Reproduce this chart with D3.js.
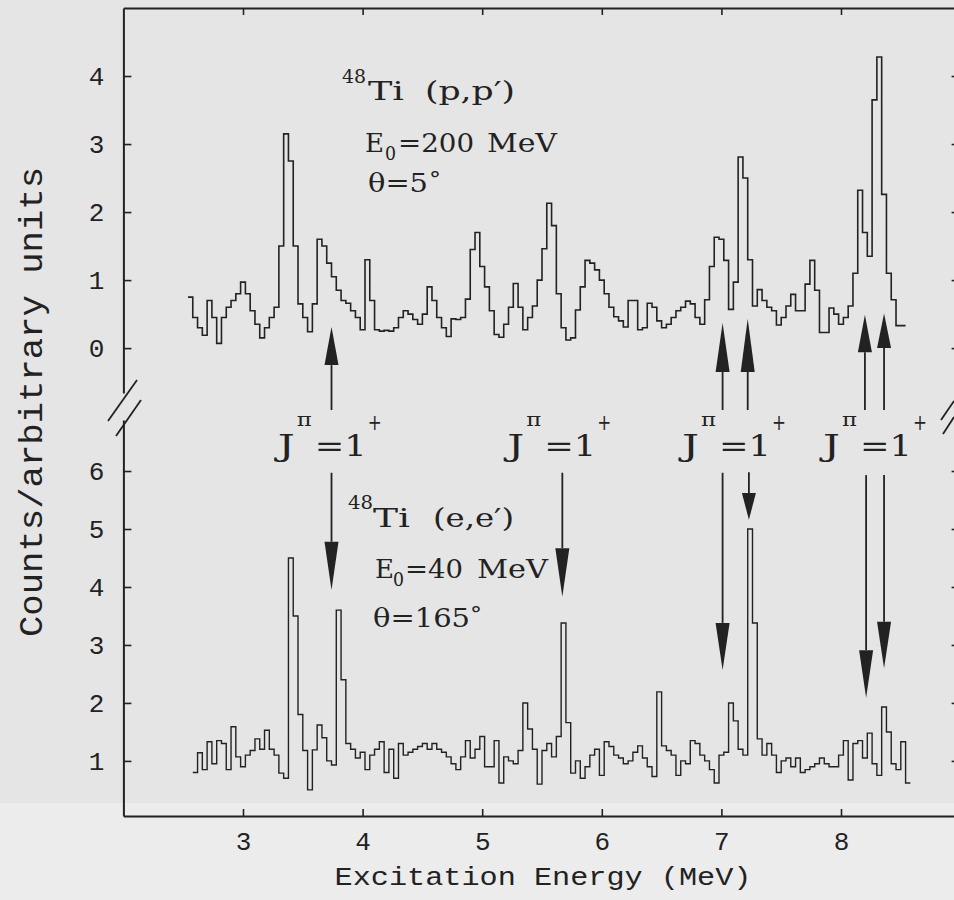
<!DOCTYPE html>
<html lang="en">
<head>
<meta charset="UTF-8">
<title>48Ti (p,p') and (e,e') spectra</title>
<script src="https://d3js.org/d3.v7.min.js"></script>
<style>
  body { margin: 0; background: #ececec; }
  svg text { fill: #222; }
</style>
</head>
<body>
<div id="chart"></div>
<script>
// channel width (MeV) used for both spectra
const binWidth = 0.04;

// 48Ti (p,p') E0=200 MeV, theta=5 deg  -- first channel starts at 2.54 MeV
const ppStart = 2.54;
const ppCounts = [
  0.75, 0.45, 0.3, 0.19, 0.7, 0.45, 0.07, 0.45, 0.6, 0.7,
  0.8, 0.97, 0.8, 0.55, 0.35, 0.15, 0.3, 0.45, 0.6, 1.5,
  3.15, 2.75, 1.5, 0.65, 0.45, 0.24, 0.65, 1.6, 1.5, 1.25,
  1.05, 0.85, 0.7, 0.66, 0.55, 0.45, 0.27, 1.3, 0.7, 0.27,
  0.25, 0.26, 0.25, 0.3, 0.45, 0.55, 0.5, 0.42, 0.35, 0.5,
  0.9, 0.7, 0.45, 0.3, 0.17, 0.43, 0.42, 0.45, 0.72, 1.45,
  1.7, 1.2, 0.9, 0.55, 0.2, 0.16, 0.35, 0.6, 0.95, 0.6,
  0.27, 0.45, 0.62, 1.0, 1.46, 2.13, 1.8, 0.8, 0.3, 0.12,
  0.15, 0.56, 0.9, 1.29, 1.25, 1.15, 1.0, 0.8, 0.6, 0.46,
  0.4, 0.31, 0.7, 0.7, 0.27, 0.3, 0.66, 0.6, 0.4, 0.3,
  0.35, 0.45, 0.55, 0.6, 0.69, 0.65, 0.45, 0.35, 0.71, 1.2,
  1.63, 1.6, 1.29, 0.57, 0.97, 2.81, 2.5, 1.3, 0.62, 0.86,
  0.7, 0.6, 0.55, 0.34, 0.45, 0.62, 0.79, 0.55, 0.55, 0.94,
  1.29, 0.85, 0.23, 0.23, 0.59, 0.5, 0.35, 0.45, 0.62, 1.1,
  2.32, 1.7, 1.35, 3.65, 4.28, 2.26, 1.1, 0.71, 0.33, 0.33
];

// 48Ti (e,e') E0=40 MeV, theta=165 deg  -- first channel starts at 2.58 MeV
const eeStart = 2.58;
const eeCounts = [
  0.8, 1.14, 0.85, 1.33, 0.95, 1.35, 1.3, 0.85, 1.59, 1.07,
  0.9, 1.1, 1.18, 1.38, 1.2, 1.53, 1.2, 1.1, 0.79, 0.7,
  4.5, 3.5, 1.8, 1.18, 0.5, 1.19, 1.62, 1.4, 1.0, 0.93,
  3.6, 2.4, 1.3, 1.2, 1.05, 1.15, 0.85, 1.1, 1.2, 1.33,
  0.8, 1.2, 0.7, 1.3, 1.1, 1.15, 1.2, 1.25, 1.3, 1.2,
  1.3, 1.2, 1.15, 1.07, 0.95, 0.85, 1.07, 1.35, 1.05, 1.2,
  1.42, 0.9, 0.9, 1.35, 0.62, 1.07, 1.0, 0.95, 1.18, 2.0,
  1.55, 1.2, 0.6, 1.18, 1.3, 1.07, 1.42, 3.38, 1.66, 0.79,
  1.0, 0.7, 0.9, 1.1, 1.2, 0.75, 1.33, 1.25, 1.1, 1.05,
  0.95, 1.0, 1.15, 1.26, 1.05, 0.9, 0.73, 2.19, 1.26, 1.18,
  1.1, 0.75, 1.0, 0.95, 1.35, 1.3, 1.1, 1.0, 0.85, 0.62,
  1.1, 1.15, 2.0, 1.69, 1.2, 1.1, 5.0, 3.38, 1.38, 1.1,
  1.3, 1.1, 0.8, 1.0, 1.05, 0.9, 1.05, 0.8, 0.85, 0.9,
  0.95, 1.05, 0.95, 0.9, 0.9, 1.1, 1.35, 0.67, 1.3, 1.35,
  1.05, 1.48, 0.95, 0.75, 1.93, 1.5, 0.95, 0.85, 1.33, 0.62
];

const xTicks = [3, 4, 5, 6, 7, 8];
const ppTicks = [0, 1, 2, 3, 4];
const eeTicks = [1, 2, 3, 4, 5, 6];

// J=1+ arrows: energy, tip, head base and tail in the units of each panel
const ppArrows = [
  { e: 3.74, tip: 0.31, base: -0.25, tail: -0.91 },
  { e: 7.01, tip: 0.37, base: -0.35, tail: -0.91 },
  { e: 7.22, tip: 0.43, base: -0.35, tail: -0.91 },
  { e: 8.20, tip: 0.49, base: -0.06, tail: -0.91 },
  { e: 8.36, tip: 0.51, base: 0.0, tail: -0.91 }
];
const eeArrows = [
  { e: 3.74, tip: 3.95, base: 4.78, tail: 5.97 },
  { e: 5.67, tip: 3.83, base: 4.67, tail: 5.97 },
  { e: 7.01, tip: 2.57, base: 3.38, tail: 5.97 },
  { e: 7.23, tip: 5.16, base: 5.62, tail: 5.98 },
  { e: 8.21, tip: 2.09, base: 2.91, tail: 5.93 },
  { e: 8.36, tip: 2.60, base: 3.40, tail: 5.93 }
];
// label energies for the J^pi = 1+ texts (left edge of each label)
const jLabelE = [3.29, 5.21, 6.67, 7.85];

const width = 954, height = 900;
const ink = "#222";

const svg = d3.select("#chart").append("svg")
  .attr("width", width).attr("height", height);

// scanned-paper background
svg.append("rect").attr("width", width).attr("height", height).attr("fill", "#ececec");
svg.append("rect").attr("width", width).attr("height", 803).attr("fill", "#e5e5e5");

// scales
const x = d3.scaleLinear().domain([2, 9]).range([123.4, 960.6]);
const yTop = d3.scaleLinear().domain([-0.66, 5]).range([393, 8]);
const yBot = d3.scaleLinear().domain([0.05, 6.88]).range([816, 420]);

const monoFont = "'Liberation Mono', 'DejaVu Sans Mono', monospace";
const serifFont = "'DejaVu Serif', 'Liberation Serif', serif";
const intFmt = d3.format("d");

function styleAxis(g) {
  g.attr("font-family", monoFont).attr("font-size", 26);
  g.select(".domain").attr("stroke", ink).attr("stroke-width", 2);
  g.selectAll(".tick line").attr("stroke", ink).attr("stroke-width", 1.6);
  g.selectAll(".tick text").attr("fill", "#333");
}

// bottom axis with labels
svg.append("g")
  .attr("transform", `translate(0,${yBot(0.05)})`)
  .call(d3.axisBottom(x).tickValues(xTicks).tickFormat(intFmt)
    .tickSizeInner(-7).tickSizeOuter(0).tickPadding(16))
  .call(styleAxis);

// top frame
svg.append("g")
  .attr("transform", `translate(0,${yTop(5)})`)
  .call(d3.axisTop(x).tickValues(xTicks).tickSizeInner(-7).tickSizeOuter(0).tickFormat(""))
  .call(styleAxis);

// left axes (broken)
svg.append("g")
  .attr("transform", `translate(${x(2)},0)`)
  .call(d3.axisLeft(yTop).tickValues(ppTicks).tickFormat(intFmt)
    .tickSizeInner(-8).tickSizeOuter(0).tickPadding(19))
  .call(styleAxis);
svg.append("g")
  .attr("transform", `translate(${x(2)},0)`)
  .call(d3.axisLeft(yBot).tickValues(eeTicks).tickFormat(intFmt)
    .tickSizeInner(-8).tickSizeOuter(0).tickPadding(19))
  .call(styleAxis);

// right axes (frame lies just off the page edge, ticks peek in)
svg.append("g")
  .attr("transform", `translate(${x(9)},0)`)
  .call(d3.axisRight(yTop).tickValues(ppTicks).tickSizeInner(-9).tickSizeOuter(0).tickFormat(""))
  .call(styleAxis);
svg.append("g")
  .attr("transform", `translate(${x(9)},0)`)
  .call(d3.axisRight(yBot).tickValues(eeTicks).tickSizeInner(-9).tickSizeOuter(0).tickFormat(""))
  .call(styleAxis);

// axis break marks
const breaks = [
  [[108, 421], [137, 380]], [[116, 436], [141, 400]],
  [[941, 420], [954, 401]], [[943, 434], [954, 417]]
];
svg.append("g").selectAll("line").data(breaks).join("line")
  .attr("x1", d => d[0][0]).attr("y1", d => d[0][1])
  .attr("x2", d => d[1][0]).attr("y2", d => d[1][1])
  .attr("stroke", ink).attr("stroke-width", 1.8);

// histograms
function histPoints(start, counts) {
  const pts = counts.map((v, i) => [start + i * binWidth, v]);
  pts.push([start + counts.length * binWidth, counts[counts.length - 1]]);
  return pts;
}
const stepLine = y => d3.line().x(d => x(d[0])).y(d => y(d[1])).curve(d3.curveStepAfter);

svg.append("path")
  .datum(histPoints(ppStart, ppCounts))
  .attr("d", stepLine(yTop))
  .attr("fill", "none").attr("stroke", ink).attr("stroke-width", 1.6);

svg.append("path")
  .datum(histPoints(eeStart, eeCounts))
  .attr("d", stepLine(yBot))
  .attr("fill", "none").attr("stroke", ink).attr("stroke-width", 1.4);

// arrows
function drawArrows(data, y) {
  const g = svg.append("g");
  g.selectAll("line").data(data).join("line")
    .attr("x1", d => x(d.e)).attr("x2", d => x(d.e))
    .attr("y1", d => y(d.tail)).attr("y2", d => y(d.base))
    .attr("stroke", ink).attr("stroke-width", 1.8);
  g.selectAll("path").data(data).join("path")
    .attr("d", d => {
      const cx = x(d.e);
      return `M${cx - 7},${y(d.base)}L${cx + 7},${y(d.base)}L${cx},${y(d.tip)}Z`;
    })
    .attr("fill", ink);
}
drawArrows(ppArrows, yTop);
drawArrows(eeArrows, yBot);

// helper for text pieces
function label(txt, px, py, size, opts = {}) {
  const t = svg.append("text")
    .attr("x", px).attr("y", py)
    .attr("font-family", opts.font || serifFont)
    .attr("font-size", size)
    .attr("fill", opts.fill || ink)
    .text(txt);
  if (opts.len) t.attr("textLength", opts.len).attr("lengthAdjust", "spacingAndGlyphs");
  if (opts.anchor) t.attr("text-anchor", opts.anchor);
  return t;
}

// (p,p') annotation
label("48", 342, 83, 19, { len: 24 });
label("Ti", 368, 100, 26, { len: 36 });
label("(p,p\u2032)", 425, 100, 26, { len: 90 });
label("E", 365, 152, 26, { len: 19 });
label("0", 385, 160, 18, { len: 11 });
label("=200", 398, 152, 26, { len: 76 });
label("MeV", 487, 152, 26, { len: 70 });
label("\u03b8=5", 368, 192, 26, { len: 60 });
label("\u00b0", 429, 186, 20, { len: 12 });

// (e,e') annotation
label("48", 348, 509, 19, { len: 25 });
label("Ti", 373, 527, 26, { len: 37 });
label("(e,e\u2032)", 433, 527, 26, { len: 81 });
label("E", 375, 578, 26, { len: 19 });
label("0", 393, 586, 18, { len: 11 });
label("=40", 405, 578, 26, { len: 58 });
label("MeV", 477, 578, 26, { len: 71 });
label("\u03b8=165", 373, 627, 26, { len: 97 });
label("\u00b0", 470, 621, 20, { len: 12 });

// J^pi = 1+ labels
jLabelE.forEach(e => {
  const x0 = x(e);
  label("J", x0, 456, 30, { len: 17 });
  label("\u03c0", x0 + 19, 426, 19, { len: 15 });
  label("=1", x0 + 37, 456, 30, { len: 52 });
  label("+", x0 + 90, 430, 22, { len: 14 });
});

// axis titles
label("Excitation Energy (MeV)", 543, 885, 25, { font: monoFont, len: 417, anchor: "middle", fill: "#333" });
label("Counts/arbitrary units", 0, 0, 34, { font: monoFont, len: 470, anchor: "middle", fill: "#333" })
  .attr("transform", "translate(42,402) rotate(-90)");
</script>
</body>
</html>
